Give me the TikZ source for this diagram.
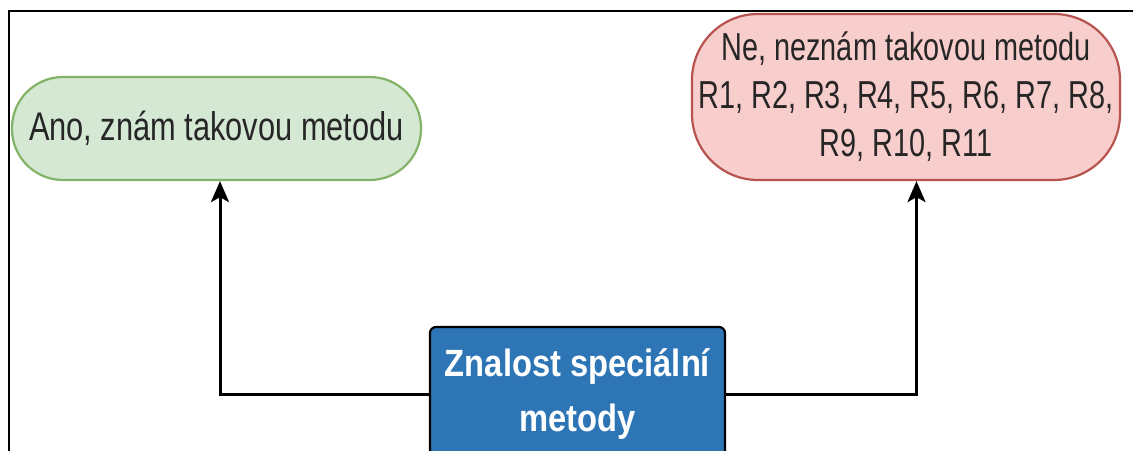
\documentclass[tikz,border=0pt]{standalone}
\usepackage{fontspec}
\setmainfont[FakeStretch=0.86]{Liberation Sans}
\newfontfamily\anofont[FakeStretch=0.77]{Liberation Sans}
\newfontfamily\nefont[FakeStretch=0.74]{Liberation Sans}
\usepackage{tikz}
\usetikzlibrary{arrows.meta}
\definecolor{anofill}{HTML}{D5E8D4}
\definecolor{anodraw}{HTML}{82B366}
\definecolor{nefill}{HTML}{F8CECC}
\definecolor{nedraw}{HTML}{B85450}
\definecolor{znalostfill}{HTML}{2E75B6}
\tikzset{
  answerbox/.style={draw,line width=2.2pt,align=center,inner sep=0pt,text=black!85},
  anobox/.style={answerbox,fill=anofill,draw=anodraw,minimum width=409pt,minimum height=103pt,rounded corners=51pt,font=\anofont\fontsize{40}{48}\selectfont},
  nebox/.style={answerbox,fill=nefill,draw=nedraw,minimum width=428pt,minimum height=166pt,rounded corners=66pt,font=\nefont\fontsize{39}{48}\selectfont},
  znalostbox/.style={draw=black,line width=2.2pt,fill=znalostfill,text=white,align=center,inner sep=0pt,rounded corners=6pt,minimum width=295pt,minimum height=134pt,font=\bfseries\fontsize{38}{55}\selectfont},
  arrowline/.style={line width=3pt,-{Stealth[length=21pt,width=18pt,inset=5pt]}},
  frameline/.style={line width=2pt}
}
\begin{document}
\begin{tikzpicture}[x=1pt,y=-1pt]
  \useasboundingbox (0,0) rectangle (1133,450);
  \clip (0,0) rectangle (1133,450);
  \coordinate (framebottom) at (9,452);
  \coordinate (framecorner) at (9,11);
  \coordinate (frameright) at (1135,11);
  \draw[frameline] (framebottom) -- (framecorner) -- (frameright);
  \node[anobox] (ano) at (216.5,128.5) {Ano, znám takovou metodu};
  \node[nebox] (ne) at (906,97) {Ne, neznám takovou metodu\\R1, R2, R3, R4, R5, R6, R7, R8,\\R9, R10, R11};
  \node[znalostbox] (znalost) at (577.5,394) {Znalost speciální\\metody};
  \draw[arrowline] (znalost.west) -| ([xshift=3.5pt]ano.south);
  \draw[arrowline] (znalost.east) -| ([xshift=10.5pt]ne.south);
\end{tikzpicture}
\end{document}
